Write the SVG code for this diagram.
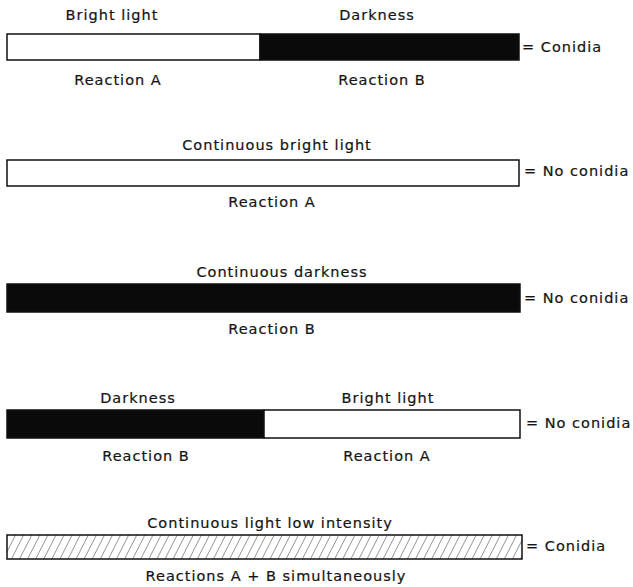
<svg xmlns="http://www.w3.org/2000/svg" width="633" height="587" viewBox="0 0 633 587">
  <style>
    text { font-family: "DejaVu Sans", "Liberation Sans", sans-serif; font-size: 14.5px; letter-spacing: 1px; fill: #141414; stroke: #141414; stroke-width: 0.2; }
    .c { text-anchor: middle; }
    .bar { stroke: #111; stroke-width: 1.5; }
    .light { fill: #fff; }
    .dark { fill: #0a0a0a; }
  </style>
  <defs>
    <!-- diagonal "/" hatching for the low-intensity bar -->
    <pattern id="hatch" patternUnits="userSpaceOnUse" width="7.2" height="10" patternTransform="translate(7,535) rotate(27)">
      <line x1="0" y1="-2" x2="0" y2="12" stroke="#222" stroke-width="0.9"/>
    </pattern>
  </defs>

  <!-- Row 1: bright light then darkness -->
  <g id="row1">
    <text class="c" x="112" y="20">Bright light</text>
    <text class="c" x="377" y="20">Darkness</text>
    <rect class="bar light" x="7" y="34" width="253" height="26"/>
    <rect class="bar dark" x="260" y="34" width="259" height="26"/>
    <text x="522" y="52">= Conidia</text>
    <text class="c" x="118" y="85">Reaction A</text>
    <text class="c" x="382" y="85">Reaction B</text>
  </g>

  <!-- Row 2: continuous bright light -->
  <g id="row2">
    <text class="c" x="277" y="150">Continuous bright light</text>
    <rect class="bar light" x="7" y="160" width="512" height="26"/>
    <text x="524" y="176">= No conidia</text>
    <text class="c" x="272" y="207">Reaction A</text>
  </g>

  <!-- Row 3: continuous darkness -->
  <g id="row3">
    <text class="c" x="282" y="277">Continuous darkness</text>
    <rect class="bar dark" x="7" y="284" width="513" height="28"/>
    <text x="524" y="303">= No conidia</text>
    <text class="c" x="272" y="334">Reaction B</text>
  </g>

  <!-- Row 4: darkness then bright light -->
  <g id="row4">
    <text class="c" x="138" y="403">Darkness</text>
    <text class="c" x="388" y="403">Bright light</text>
    <rect class="bar dark" x="7" y="410" width="257" height="28"/>
    <rect class="bar light" x="264" y="410" width="256" height="28"/>
    <text x="526" y="428">= No conidia</text>
    <text class="c" x="146" y="461">Reaction B</text>
    <text class="c" x="387" y="461">Reaction A</text>
  </g>

  <!-- Row 5: continuous low-intensity light -->
  <g id="row5">
    <text class="c" x="270" y="528">Continuous light low intensity</text>
    <rect class="bar" x="7" y="535" width="515" height="24" fill="url(#hatch)"/>
    <text x="526" y="551">= Conidia</text>
    <text class="c" x="276" y="581">Reactions A + B simultaneously</text>
  </g>
</svg>
